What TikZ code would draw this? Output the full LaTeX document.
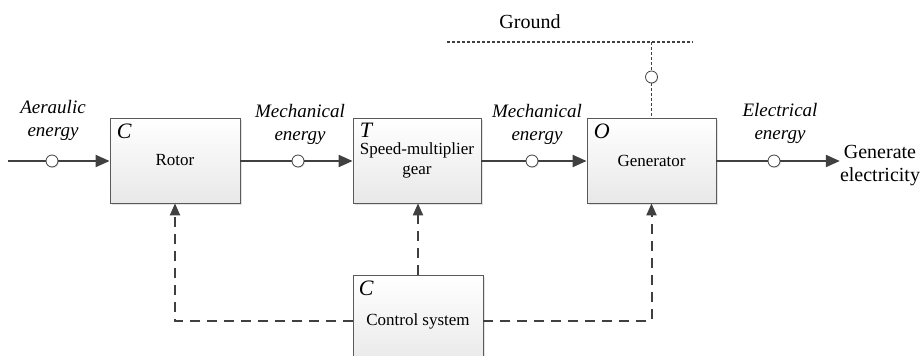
\documentclass[tikz,border=0pt]{standalone}
\usepackage{fontspec}
\setmainfont{Liberation Serif}
\newfontfamily\tms{Liberation Serif}
\usetikzlibrary{arrows.meta,shadows}
\definecolor{ln}{HTML}{404040}
\definecolor{bd}{HTML}{5A5A5A}
\begin{document}
\begin{tikzpicture}[x=1pt,y=-1pt,
  blk/.style={draw=bd, line width=0.8pt, top color=white, bottom color=black!9,
    drop shadow={shadow xshift=2pt, shadow yshift=-2pt, opacity=0.22},
    minimum height=85pt, inner sep=0pt, align=center,
    font=\tms\fontsize{17}{20}\selectfont},
  tag/.style={anchor=north west, inner sep=0pt, font=\tms\fontsize{22}{24}\selectfont\itshape},
  port/.style={circle, draw=ln, fill=white, line width=0.8pt, minimum size=12pt, inner sep=0pt,
    drop shadow={shadow xshift=1pt, shadow yshift=-1pt, opacity=0.2}},
  lab/.style={align=center, inner sep=0pt, font=\tms\fontsize{19}{23}\selectfont\itshape},
  txt/.style={align=center, inner sep=0pt, font=\tms\fontsize{20}{23}\selectfont},
  wire/.style={draw=ln, line width=2pt},
  flow/.style={wire, -{Triangle[length=14pt,width=12pt]}},
  ctl/.style={draw=ln, line width=2pt, dash pattern=on 10pt off 7pt},
  ctlarrow/.style={ctl, -{Triangle[length=12pt,width=10pt]}},
  gnd/.style={draw=ln, line width=1.5pt, dash pattern=on 3pt off 2pt}]
\useasboundingbox (0,0) rectangle (921,356);

% blocks
\node[blk, minimum width=130pt] (rot) at (175,160.5) {Rotor};
\node[blk, minimum width=128pt] (gear) at (417,160.5) {Speed-multiplier\\gear};
\node[blk, minimum width=129pt] (gen) at (651.5,160.5) {Generator};
\node[blk, minimum width=130pt, minimum height=92pt] (ctrl) at (418,321) {Control system};

\node[tag] (rotT) at ([xshift=7pt,yshift=-6pt]rot.north west) {C};
\node[tag] (gearT) at ([xshift=7pt,yshift=-5pt]gear.north west) {T};
\node[tag] (genT) at ([xshift=7pt,yshift=-6pt]gen.north west) {O};
\node[tag] (ctrlT) at ([xshift=6pt,yshift=-6pt]ctrl.north west) {C};

% endpoints
\coordinate (in) at (8,161);
\node[txt] (out) at (880,166) {Generate\\electricity};
\coordinate (gl) at (447,42);
\coordinate (gr) at (693,42);

% ports
\node[port] (p1) at (52,161) {};
\node[port] (p2) at (298,161) {};
\node[port] (p3) at (532,161) {};
\node[port] (p4) at (774,161) {};
\node[port] (pg) at (651.5,77) {};

% flow lines
\draw[wire] (in) -- (p1);
\draw[flow] (p1) -- (rot.west |- p1);
\draw[wire] (rot.east |- p2) -- (p2);
\draw[flow] (p2) -- (gear.west |- p2);
\draw[wire] (gear.east |- p3) -- (p3);
\draw[flow] (p3) -- (gen.west |- p3);
\draw[wire] (gen.east |- p4) -- (p4);
\draw[flow] (p4) -- (out.west |- p4);

% ground
\node[txt] (gtxt) at (530,22) {Ground};
\draw[gnd] (gl) -- (gr);
\draw[gnd] (pg |- gl) -- (pg);
\draw[gnd] (pg) -- (gen.north);

% control lines
\draw[ctlarrow] (ctrl.west) -| (rot.south);
\draw[ctlarrow] (ctrl.north) -- (ctrl.north |- gear.south);
\draw[ctlarrow] (ctrl.east) -| (gen.south);

% labels
\node[lab] (l1) at (53,120) {Aeraulic\\energy};
\node[lab] (l2) at (300,124) {Mechanical\\energy};
\node[lab] (l3) at (537,124) {Mechanical\\energy};
\node[lab] (l4) at (780,123) {Electrical\\energy};
\end{tikzpicture}
\end{document}
